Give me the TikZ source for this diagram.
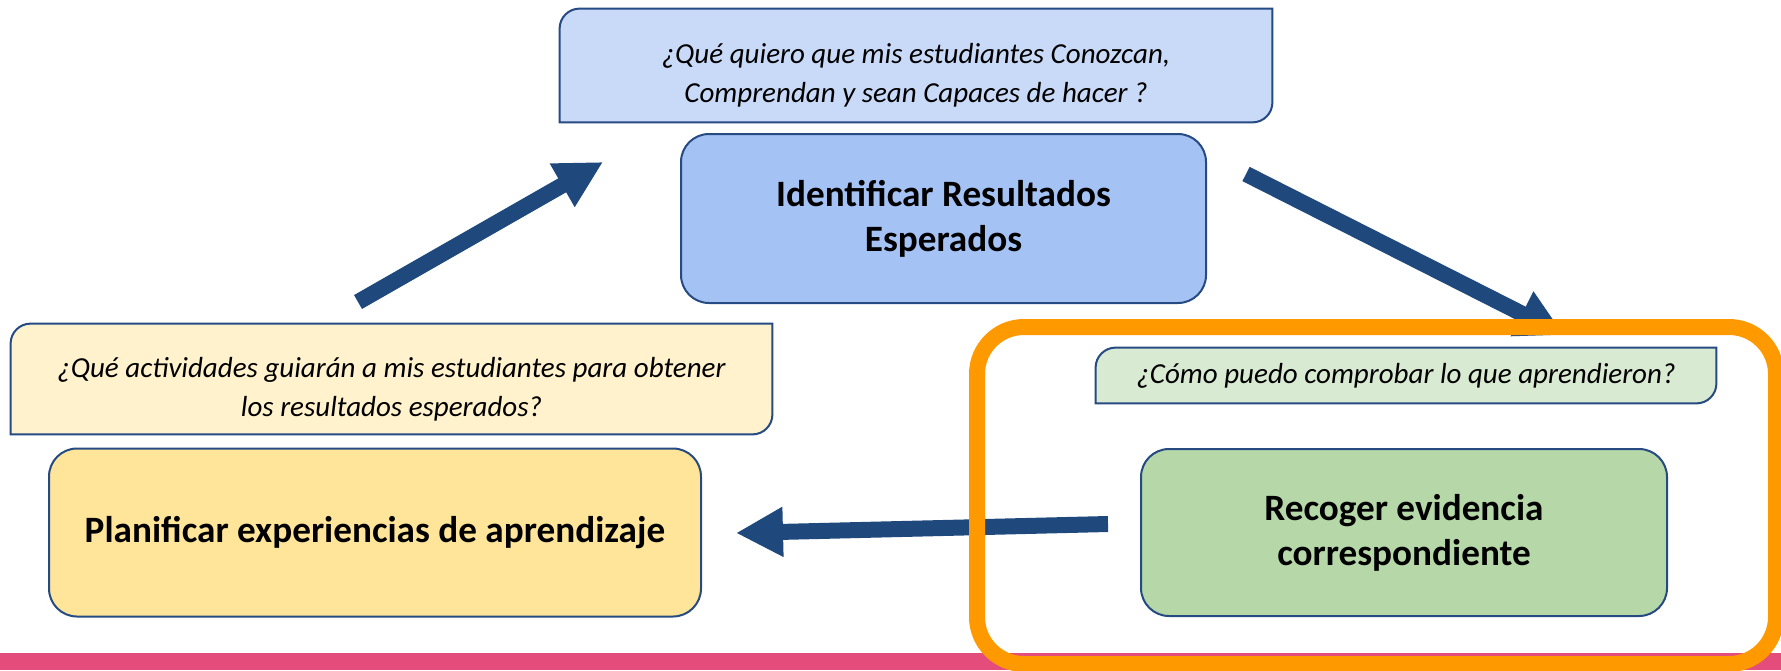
\documentclass[tikz,border=0pt]{standalone}
\usepackage{fontspec}
\setmainfont{Carlito}
\usepackage{tikz}
\definecolor{lineblue}{RGB}{38,74,130}
\definecolor{arrowblue}{RGB}{31,73,125}
\definecolor{topqfill}{RGB}{201,218,248}
\definecolor{identfill}{RGB}{164,194,244}
\definecolor{yelqfill}{RGB}{255,242,204}
\definecolor{planfill}{RGB}{255,229,153}
\definecolor{grnqfill}{RGB}{217,234,211}
\definecolor{recogfill}{RGB}{182,215,168}
\definecolor{frameorange}{RGB}{255,153,0}
\definecolor{barpink}{RGB}{228,77,123}
\usetikzlibrary{arrows.meta, positioning, calc, backgrounds}

\begin{document}
\begin{tikzpicture}[
    x=0.5pt, y=-0.5pt,
    box/.style={rectangle, draw=lineblue, line width=1pt, rounded corners=14pt,
                align=center, font=\fontsize{18.6}{22.5}\selectfont\bfseries},
    question/.style={rectangle, inner sep=0pt, align=center,
                font=\fontsize{14.5}{19.5}\selectfont\itshape},
    arrow/.style={-{Triangle[length=23.5pt, width=23.5pt]}, line width=8pt, arrowblue}
]
    \useasboundingbox (0,0) rectangle (1781,670);

    % main steps
    \node[box, fill=identfill, minimum width=262.5pt, minimum height=84.5pt] (ident) at (943.5,218.5) {Identificar Resultados\\Esperados};
    \node[box, fill=planfill, minimum width=326pt, minimum height=84pt] (plan) at (375,532.5) {Planificar experiencias de aprendizaje};
    \node[box, fill=recogfill, minimum width=263pt, minimum height=83.5pt] (recog) at (1404,532.5) {Recoger evidencia\\correspondiente};

    % guiding questions
    \node[question, minimum width=356pt, minimum height=56.5pt] (topq) at (916,65.5) {\rule{0pt}{20pt}¿Qué quiero que mis estudiantes Conozcan,\\Comprendan y sean Capaces de hacer ?};
    \node[question, minimum width=380.5pt, minimum height=55pt] (yelq) at (391.5,379) {\rule{0pt}{20pt}¿Qué actividades guiarán a mis estudiantes para obtener\\los resultados esperados?};
    \node[question, minimum width=310pt, minimum height=27.5pt] (grnq) at (1406,375.5) {¿Cómo puedo comprobar lo que aprendieron?};

    \begin{scope}[on background layer]
        \foreach \q/\c in {topq/topqfill, yelq/yelqfill, grnq/grnqfill}
            \filldraw[draw=lineblue, line width=1pt, fill=\c]
                (\q.south west) -- ([yshift=-10pt]\q.north west)
                arc[start angle=180, end angle=90, radius=10pt]
                -- (\q.north east) -- ([yshift=10pt]\q.south east)
                arc[start angle=0, end angle=-90, radius=10pt] -- cycle;
    \end{scope}

    % cycle arrows
    \coordinate (upS) at (358,302);
    \coordinate (upE) at (603,162);
    \coordinate (dnS) at (1246,174);
    \coordinate (dnE) at (1564,335);
    \coordinate (ltS) at (1108,524);
    \coordinate (ltE) at (736,533);
    \draw[arrow] (upS) -- (upE);
    \draw[arrow] (dnS) -- (dnE);
    \draw[arrow] (ltS) -- (ltE);

    \fill[barpink] (0,653) rectangle (1781,670);
    \draw[frameorange, line width=8pt, rounded corners=23.5pt] (977,327) rectangle (1776,664);
\end{tikzpicture}
\end{document}
